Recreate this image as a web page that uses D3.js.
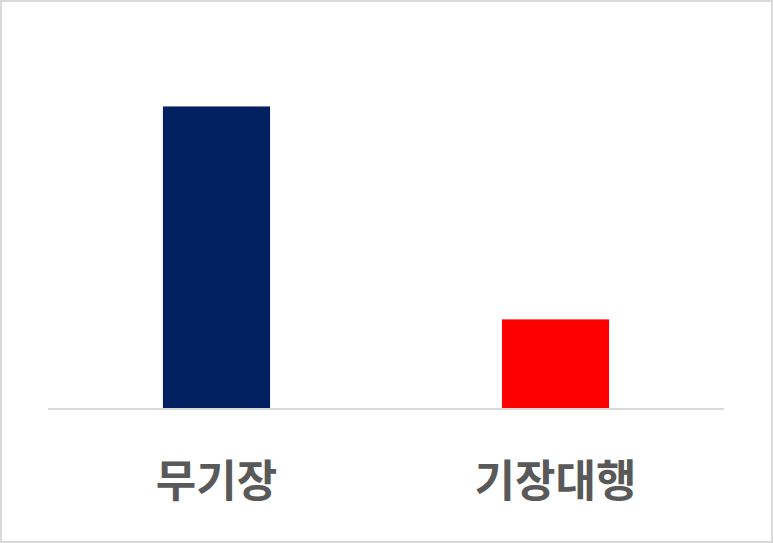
<!DOCTYPE html>
<html>
<head>
<meta charset="utf-8">
<script src="https://cdn.jsdelivr.net/npm/d3@7"></script>
<style>
  html, body { margin: 0; padding: 0; background: #fff; }
  svg { display: block; }
</style>
</head>
<body>
<div id="chart"></div>
<script>
// data (no axis labels, relative sizes only)
var categories = ["무기장", "기장대행"];
var values = [100, 29.5];
var barColors = ["#002060", "#ff0000"];

var width = 773,
  height = 543;

var svg = d3
  .select("#chart")
  .append("svg")
  .attr("width", width)
  .attr("height", height);

// outer frame
svg
  .append("rect")
  .attr("x", 1)
  .attr("y", 1)
  .attr("width", width - 2)
  .attr("height", height - 2)
  .attr("fill", "#fff")
  .attr("stroke", "#d9d9d9")
  .attr("stroke-width", 2);

var xScale = d3
  .scaleBand()
  .domain(categories)
  .range([48, 724])
  .paddingInner(0.684)
  .paddingOuter(0.339);

var yScale = d3.scaleLinear().domain([0, 122]).range([408.5, 40]);

// bars
svg
  .selectAll(".bar")
  .data(values)
  .enter()
  .append("rect")
  .attr("class", "bar")
  .attr("x", function (d, i) {
    return xScale(categories[i]);
  })
  .attr("y", function (d) {
    return yScale(d);
  })
  .attr("width", xScale.bandwidth())
  .attr("height", function (d) {
    return yScale(0) - yScale(d);
  })
  .attr("fill", function (d, i) {
    return barColors[i];
  });

// baseline
svg
  .append("line")
  .attr("x1", 48)
  .attr("x2", 724)
  .attr("y1", yScale(0) + 0.5)
  .attr("y2", yScale(0) + 0.5)
  .attr("stroke", "#d9d9d9")
  .attr("stroke-width", 2);

// category labels
var xAxis = d3.axisBottom(xScale).tickSize(0).tickPadding(0);
var axisG = svg
  .append("g")
  .attr("transform", "translate(0," + 497 + ")")
  .call(xAxis);
axisG.select(".domain").remove();
axisG
  .selectAll("text")
  .attr("dy", 0)
  .attr("fill", "#595959")
  .style("font-family", "'Noto Sans CJK KR', 'Noto Sans', sans-serif")
  .style("font-size", "44px")
  .style("font-weight", "bold");
</script>
</body>
</html>
